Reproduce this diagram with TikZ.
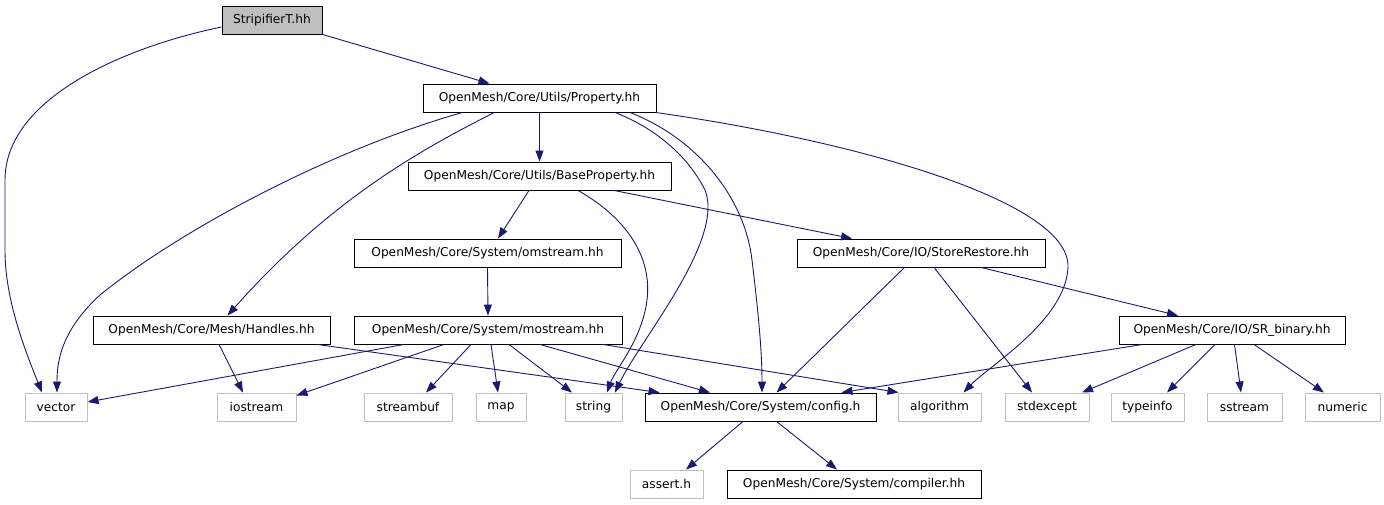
\documentclass[tikz,border=0pt]{standalone}
\usepackage{fontspec}
\setmainfont{DejaVu Sans}
\usetikzlibrary{arrows.meta}
\definecolor{edgeblue}{HTML}{191970}
\definecolor{leafgray}{HTML}{BFBFBF}
\begin{document}
\begin{tikzpicture}[x=1pt,y=-1pt,
  base/.style={rectangle,inner sep=0pt,minimum height=28pt,font=\fontsize{12.2}{14}\selectfont,text=black},
  hdr/.style={base,draw=black,line width=0.9pt,fill=white},
  root/.style={base,draw=black,line width=0.9pt,fill=leafgray},
  leaf/.style={base,draw=leafgray,line width=1pt,fill=white},
  dep/.style={draw=edgeblue,line width=0.9pt,-{Triangle[length=11pt,width=8pt]}}
]
\useasboundingbox[fill=white] (0,0) rectangle (1384,504);

\node[root,minimum width=100pt] (strip) at (272,20) {StripifierT.hh};
\node[hdr,minimum width=233pt] (prop) at (539.5,98) {OpenMesh/Core/Utils/Property.hh};
\node[hdr,minimum width=263pt] (basep) at (539.5,176) {OpenMesh/Core/Utils/BaseProperty.hh};
\node[hdr,minimum width=267pt] (oms) at (487.5,253) {OpenMesh/Core/System/omstream.hh};
\node[hdr,minimum width=248pt] (stre) at (921,253) {OpenMesh/Core/IO/StoreRestore.hh};
\node[hdr,minimum width=237pt] (hand) at (211.5,330) {OpenMesh/Core/Mesh/Handles.hh};
\node[hdr,minimum width=268pt] (mos) at (488,330) {OpenMesh/Core/System/mostream.hh};
\node[hdr,minimum width=226pt] (srb) at (1232,330) {OpenMesh/Core/IO/SR\_binary.hh};
\node[leaf,minimum width=62pt] (vector) at (56,407) {vector};
\node[leaf,minimum width=79pt] (iostream) at (256.5,407) {iostream};
\node[leaf,minimum width=88pt] (streambuf) at (408,407) {streambuf};
\node[leaf,minimum width=50pt] (map) at (501,407) {map};
\node[leaf,minimum width=57pt] (string) at (593.5,407) {string};
\node[hdr,minimum width=231pt] (config) at (760.5,407) {OpenMesh/Core/System/config.h};
\node[leaf,minimum width=83pt] (algorithm) at (939.5,407) {algorithm};
\node[leaf,minimum width=84pt] (stdexcept) at (1047,407) {stdexcept};
\node[leaf,minimum width=73pt] (typeinfo) at (1147.5,407) {typeinfo};
\node[leaf,minimum width=75pt] (sstream) at (1244.5,407) {sstream};
\node[leaf,minimum width=75pt] (numeric) at (1342.5,407) {numeric};
\node[leaf,minimum width=73pt] (assert) at (666.5,484) {assert.h};
\node[hdr,minimum width=254pt] (compiler) at (854,484) {OpenMesh/Core/System/compiler.hh};

% StripifierT
\draw[dep] ([yshift=-7pt]strip.west) .. controls (120,48) and (5,100) .. (5,180)
  -- (5,250) .. controls (5,300) and (25,350) .. ([xshift=-14pt]vector.north);
\draw[dep] (strip.south east) -- ([xshift=-50pt]prop.north);

% Property
\draw[dep] ([xshift=-77pt]prop.south) .. controls (330,150) and (180,230) .. (100,295)
  .. controls (62,330) and (57,360) .. ([xshift=1pt]vector.north);
\draw[dep] ([xshift=-45pt]prop.south) .. controls (420,150) and (330,200) .. ([xshift=16pt]hand.north);
\draw[dep] (prop.south) -- (basep.north);
\draw[dep] ([xshift=75.5pt]prop.south) .. controls (660,130) and (690,160) .. (705,190)
  .. controls (725,240) and (640,340) .. ([xshift=21.5pt]string.north);
\draw[dep] ([xshift=90.5pt]prop.south) .. controls (700,140) and (745,200) .. (752,260)
  .. controls (758,310) and (762,350) .. ([xshift=1.5pt]config.north);
\draw[dep] ([xshift=-1pt]prop.south east) .. controls (850,140) and (1070,200) .. (1068,267)
  .. controls (1066,320) and (990,365) .. ([xshift=24pt]algorithm.north);

% BaseProperty
\draw[dep] ([xshift=-10.5pt]basep.south) -- ([xshift=10.5pt]oms.north);
\draw[dep] ([xshift=74.5pt]basep.south) -- ([xshift=-69pt]stre.north);
\draw[dep] ([xshift=38.5pt]basep.south) .. controls (630,220) and (652,260) .. (647,300)
  .. controls (642,340) and (615,370) .. ([xshift=13.5pt]string.north);

% omstream
\draw[dep] (oms.south) -- (mos.north);

% Handles
\draw[dep] ([xshift=7.5pt]hand.south) -- ([xshift=-13.5pt]iostream.north);
\draw[dep] ([xshift=-13pt]hand.south east) -- ([xshift=15pt]config.north west);

% mostream
\draw[dep] ([xshift=-84pt]mos.south) -- ([yshift=5pt]vector.east);
\draw[dep] ([xshift=-44pt]mos.south) -- ([yshift=-3pt]iostream.north east);
\draw[dep] ([xshift=-17pt]mos.south) -- ([xshift=18pt]streambuf.north);
\draw[dep] ([xshift=3pt]mos.south) -- ([xshift=-3pt]map.north);
\draw[dep] ([xshift=21pt]mos.south) -- ([xshift=-21.5pt]string.north);
\draw[dep] ([xshift=52pt]mos.south) -- ([xshift=-50.5pt]config.north);
\draw[dep] ([xshift=115pt]mos.south) -- ([xshift=1pt]algorithm.north west);

% StoreRestore
\draw[dep] ([xshift=-16.5pt]stre.south) -- ([xshift=16pt]config.north);
\draw[dep] ([xshift=13pt]stre.south) -- ([xshift=-15pt]stdexcept.north);
\draw[dep] ([xshift=60pt]stre.south) -- ([xshift=-54pt]srb.north);

% SR_binary
\draw[dep] ([xshift=-89.5pt]srb.south) -- ([xshift=81pt]config.north);
\draw[dep] ([xshift=-36pt]srb.south) -- ([xshift=35pt]stdexcept.north);
\draw[dep] ([xshift=-17pt]srb.south) -- ([xshift=19.5pt]typeinfo.north);
\draw[dep] ([xshift=2.5pt]srb.south) -- ([xshift=-3.5pt]sstream.north);
\draw[dep] ([xshift=22pt]srb.south) -- ([xshift=-18.5pt]numeric.north);

% config.h
\draw[dep] ([xshift=-17.5pt]config.south) -- ([xshift=19.5pt]assert.north);
\draw[dep] ([xshift=16pt]config.south) -- ([xshift=-17pt]compiler.north);
\end{tikzpicture}
\end{document}
